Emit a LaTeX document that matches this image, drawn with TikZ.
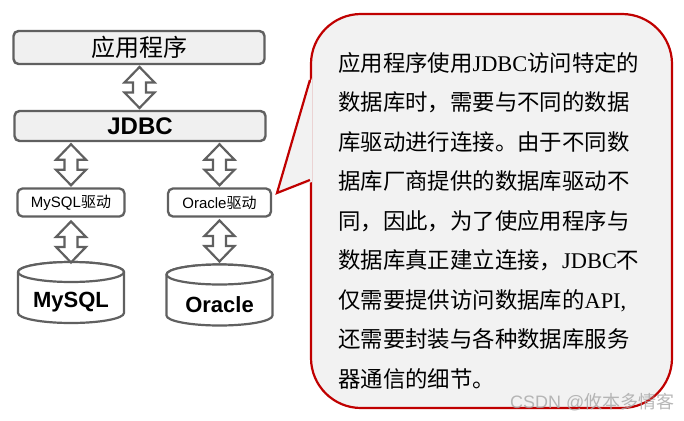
\documentclass[tikz,border=0pt]{standalone}
\usepackage{fontspec}
\setmainfont{Liberation Serif}
\setsansfont{Liberation Sans}
\newfontfamily\cjk{Noto Sans CJK SC}
\usepackage{tikz}
\usetikzlibrary{
  calc}

\definecolor{framegray}{HTML}{606060}
\definecolor{layerfill}{HTML}{F0F0F0}
\definecolor{notefill}{HTML}{F2F2F2}
\definecolor{notered}{HTML}{C00000}
\newcommand\westtext[1]{{\rmfamily #1}}

\begin{document}
\begin{tikzpicture}[x=1pt,y=-1pt]
\useasboundingbox[fill=white] (0,0) rectangle (684,420);
\tikzset{
  layer/.style={draw=framegray, line width=2.4pt, fill=layerfill,
    rounded corners=5pt, inner sep=0pt, minimum width=251pt},
  driver/.style={draw=framegray, line width=2.3pt, fill=white,
    rounded corners=5pt, inner sep=0pt, minimum height=28pt,
    font=\sffamily\fontsize{15}{15}\selectfont},
  can/.style={inner sep=0pt, minimum width=106pt, minimum height=61pt},
  dblabel/.style={font=\sffamily\bfseries\fontsize{22}{22}\selectfont},
  outline/.style={draw=framegray, line width=2.2pt, fill=white, line join=miter},
  updown/.pic={
    \draw[outline] (0,-20.5) -- (15,-5) -- (6.5,-5) -- (6.5,5) -- (15,5)
      -- (0,20.5) -- (-15,5) -- (-6.5,5) -- (-6.5,-5) -- (-15,-5) -- cycle;
  },
  dbcan/.pic={
    \draw[outline] (-53,-20.5) -- (-53,20.5)
      arc[start angle=180, end angle=0, x radius=53, y radius=10]
      -- (53,-20.5) arc[start angle=0, end angle=-180, x radius=53, y radius=10];
    \draw[outline] (0,-20.5) ellipse[x radius=53, y radius=10];
  },
  note/.style={draw=notered, line width=2.2pt, fill=notefill,
    rounded corners=50pt, minimum width=361pt, minimum height=394pt},
  notetext/.style={font=\cjk\fontsize{22.4}{39.5}\selectfont,
    align=left, inner sep=0pt},
  wmark/.style={text=gray!70, opacity=0.8,
    font=\sffamily\fontsize{18}{18}\selectfont, inner sep=0pt}
}

% left stack
\node[layer, minimum height=33pt, font=\cjk\fontsize{24}{24}\selectfont]
  (app) at (139,47.5) {应用程序};
\node[layer, minimum height=30pt, font=\sffamily\bfseries\fontsize{24}{24}\selectfont]
  (jdbc) at (140,126) {JDBC};
\node[driver, minimum width=107pt] (mysqld) at (71,202.5) {MySQL{\cjk 驱动}};
\node[driver, minimum width=103pt] (oracled) at (219.5,202.5) {Oracle{\cjk 驱动}};
\node[can] (mysqlcan) at (71,292.5) {};
\node[can] (oraclecan) at (219.5,295) {};
\pic at (mysqlcan) {dbcan};
\pic at (oraclecan) {dbcan};
\node[dblabel] (mysql) at ($(mysqlcan.center)+(0,9.5)$) {MySQL};
\node[dblabel] (oracle) at ($(oraclecan.center)+(0,9.5)$) {Oracle};

% block arrows
\pic at ($(app.south)!0.5!(jdbc.north)$) {updown};
\pic at ($(jdbc.south -| mysqld)!0.5!(mysqld.north)$) {updown};
\pic at ($(jdbc.south -| oracled)!0.5!(oracled.north)$) {updown};
\pic at ($(mysqld.south)!0.55!(mysqlcan.north)$) {updown};
\pic at ($(oracled.south)!0.5!(oraclecan.north)$) {updown};

% callout
\node[note] (note) at (491.5,211) {};
\coordinate (tip) at (277,193);
\fill[notefill] ($(note.west |- 0,78)+(2,0)$) -- (tip)
  -- ($(note.west |- 0,182)+(2,0)$) -- cycle;
\draw[notered, line width=2.2pt, line join=miter]
  (note.west |- 0,80) -- (tip) -- (note.west |- 0,180);
\node[notetext, anchor=north west] (explain) at (338,52) {%
应用程序使用\westtext{JDBC}访问特定的\\
数据库时，需要与不同的数据\\
库驱动进行连接。由于不同数\\
据库厂商提供的数据库驱动不\\
同，因此，为了使应用程序与\\
数据库真正建立连接，\westtext{JDBC}不\\
仅需要提供访问数据库的\westtext{API,}\\
还需要封装与各种数据库服务\\
器通信的细节。};
\node[wmark, anchor=base west] (csdn) at (510,408) {CSDN @{\cjk 攸本多情客}};
\end{tikzpicture}
\end{document}
